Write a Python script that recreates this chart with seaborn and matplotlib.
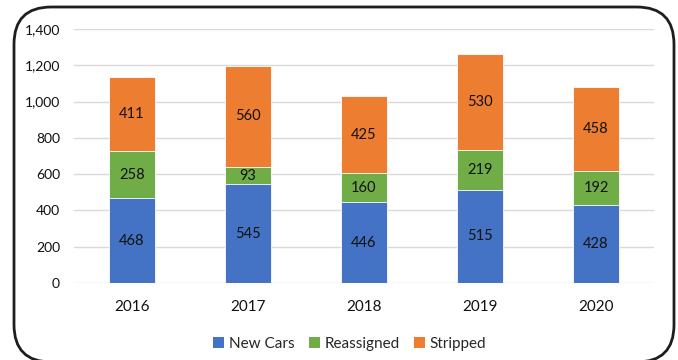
import matplotlib
matplotlib.use("Agg")
import matplotlib.pyplot as plt
from matplotlib.patches import FancyBboxPatch, Patch
import seaborn as sns
import pandas as pd
import numpy as np

years = ["2016", "2017", "2018", "2019", "2020"]
new_cars = [468, 545, 446, 515, 428]
reassigned = [258, 93, 160, 219, 192]
stripped = [411, 560, 425, 530, 458]
series_names = ["New Cars", "Reassigned", "Stripped"]
colors = ["#4472C4", "#70AD47", "#ED7D31"]
y_ticks = [0, 200, 400, 600, 800, 1000, 1200, 1400]

sns.set_theme(style="white")
plt.rcParams["font.family"] = ["Lato", "DejaVu Sans"]

fig = plt.figure(figsize=(6.78, 3.6), dpi=100)
ax = fig.add_axes([74 / 678, 1 - 283 / 360, 580 / 678, 254 / 360])

df = pd.DataFrame({
    "year": years,
    "new": new_cars,
    "reassigned": reassigned,
    "stripped": stripped,
})
df["lvl1"] = df["new"]
df["lvl2"] = df["new"] + df["reassigned"]
df["lvl3"] = df["lvl2"] + df["stripped"]

# Stacked bars: draw cumulative totals from the top layer down
for col, color in zip(["lvl3", "lvl2", "lvl1"], colors[::-1]):
    sns.barplot(data=df, x="year", y=col, color=color, width=0.4,
                edgecolor="white", linewidth=0.6, saturation=1, ax=ax, zorder=3)

# Segment value labels
bottoms = np.zeros(len(years))
for vals in [new_cars, reassigned, stripped]:
    for i, v in enumerate(vals):
        ax.text(i, bottoms[i] + v / 2, f"{v}", ha="center", va="center",
                fontsize=10.5, color="#111111", zorder=4)
    bottoms += np.array(vals)

ax.set_ylim(0, 1400)
ax.set_xlim(-0.5, len(years) - 0.5)
ax.set_yticks(y_ticks)
ax.set_yticklabels([f"{t:,}" for t in y_ticks], fontsize=10, color="#111111")
ax.tick_params(axis="x", labelsize=11, colors="#111111", pad=12, length=0)
ax.tick_params(axis="y", length=0, pad=10)
ax.set_xlabel("")
ax.set_ylabel("")
ax.yaxis.grid(True, color="#d9d9d9", linewidth=1.0, zorder=0)
ax.set_axisbelow(True)
for s in ax.spines.values():
    s.set_visible(False)

handles = [Patch(facecolor=c, edgecolor="none") for c in colors]
fig.legend(handles, series_names, loc="center", bbox_to_anchor=(350 / 678, 1 - 344 / 360),
           ncol=3, frameon=False, fontsize=11, handlelength=0.7, handleheight=0.7,
           handletextpad=0.35, columnspacing=0.9)

# Rounded frame around the chart
frame = FancyBboxPatch((14 / 678, 1 - 362 / 360), 660 / 678, 355 / 360,
                       boxstyle="round,pad=0,rounding_size=0.055",
                       transform=fig.transFigure, fill=False,
                       edgecolor="#1e1e1e", linewidth=2.0,
                       mutation_aspect=678 / 360)
fig.patches.append(frame)

fig.savefig("out.png", dpi=100)
